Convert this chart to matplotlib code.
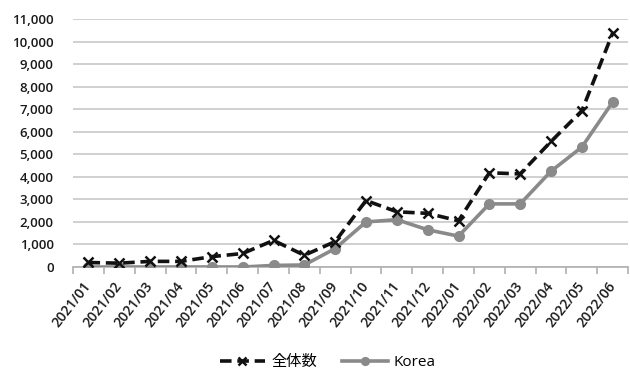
import matplotlib
matplotlib.use("Agg")
import matplotlib.pyplot as plt
from matplotlib.ticker import FuncFormatter, MultipleLocator
import numpy as np

plt.rcParams['font.family'] = ['Open Sans', 'Noto Sans CJK JP']
plt.rcParams['font.weight'] = 'semibold'

months = ["2021/01", "2021/02", "2021/03", "2021/04", "2021/05", "2021/06",
          "2021/07", "2021/08", "2021/09", "2021/10", "2021/11", "2021/12",
          "2022/01", "2022/02", "2022/03", "2022/04", "2022/05", "2022/06"]
total = [200, 170, 250, 250, 460, 600, 1180, 520, 1130, 2950, 2450, 2380,
         2050, 4180, 4130, 5570, 6930, 10380]
korea = [0, 0, 0, 0, 0, 0, 70, 90, 820, 2000, 2100, 1650,
         1370, 2800, 2800, 4250, 5320, 7320]
label_total = "全体数"
label_korea = "Korea"

fig = plt.figure(figsize=(6.3, 3.69), dpi=100)
ax = fig.add_axes([0.116, 0.2764, 0.881, 0.672])

x = np.arange(len(months))
ax.plot(x, total, color="#111111", lw=2.6, linestyle=(0, (3.2, 1.6)),
        marker="x", markersize=7, markeredgewidth=1.8, label=label_total, zorder=4)
ax.plot(x, korea, color="#8a8a8a", lw=2.6, marker="o", markersize=7,
        label=label_korea, zorder=3)

ax.set_xlim(-0.5, len(months) - 0.5)
ax.set_ylim(0, 11000)
ax.yaxis.set_major_locator(MultipleLocator(1000))
ax.yaxis.set_major_formatter(FuncFormatter(lambda v, p: f"{int(v):,}"))
ax.grid(axis="y", color="#c8c8c8", lw=1.2)
ax.set_axisbelow(True)

for s in ["top", "right", "left"]:
    ax.spines[s].set_visible(False)
ax.spines["bottom"].set_color("#b0b0b0")
ax.spines["bottom"].set_linewidth(1.2)

ax.set_xticks(x)
ax.set_xticklabels(months, rotation=52, ha="right", va="center",
                   rotation_mode="anchor", fontsize=10, color="#1a1a1a")
ax.tick_params(axis="x", length=0, pad=12)
ax.set_xticks(np.arange(-0.5, len(months)), minor=True)
ax.tick_params(axis="x", which="minor", length=5, color="#b0b0b0", width=1.2)
ax.tick_params(axis="y", length=0, pad=14, labelsize=9.5, labelcolor="#1a1a1a")

fig.legend(loc="center", bbox_to_anchor=(0.52, 0.018), ncol=2, frameon=False,
           prop={"size": 11, "weight": "normal"}, handlelength=3.0,
           columnspacing=1.6, handletextpad=0.4, markerscale=0.8)

fig.savefig("out.png", dpi=100)
